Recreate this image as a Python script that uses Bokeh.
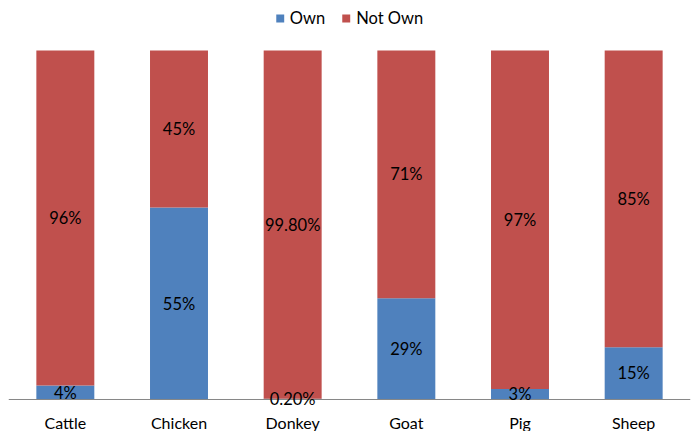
from bokeh.plotting import figure
from bokeh.models import ColumnDataSource, LabelSet, Legend, LegendItem, Range1d, Span
from bokeh.core.properties import value
from bokeh.embed import file_html
from bokeh.resources import INLINE

animals = ["Cattle", "Chicken", "Donkey", "Goat", "Pig", "Sheep"]
own = [4, 55, 0.2, 29, 3, 15]
not_own = [96, 45, 99.8, 71, 97, 85]
own_labels = ["4%", "55%", "0.20%", "29%", "3%", "15%"]
not_own_labels = ["96%", "45%", "99.80%", "71%", "97%", "85%"]

BLUE = "#4F81BD"
RED = "#C0504D"
FONT = "Lato"

source = ColumnDataSource(dict(
    animal=animals,
    own=own,
    not_own=not_own,
    own_mid=[o / 2 for o in own],
    not_own_mid=[o + n / 2 for o, n in zip(own, not_own)],
    own_label=own_labels,
    not_own_label=not_own_labels,
    zero=[0] * len(animals),
))

p = figure(x_range=animals, width=697, height=431, output_backend="svg",
           toolbar_location=None, min_border_left=8, min_border_right=7,
           min_border_top=0, min_border_bottom=0,
           x_axis_location=None, y_axis_location=None)
# the frame spans the full height: headroom on top for the legend,
# room below zero for the category names (so the small Donkey label is not cut)
p.y_range = Range1d(-9.17, 114.33)
p.x_range.range_padding = 0

r = p.vbar_stack(["own", "not_own"], x="animal", width=0.51, color=[BLUE, RED],
                 line_color=None, source=source)

# baseline
p.add_layout(Span(location=0, dimension="width", line_color="#868686", line_width=1))

for col, ycol in (("own_label", "own_mid"), ("not_own_label", "not_own_mid")):
    p.add_layout(LabelSet(x="animal", y=ycol, text=col, source=source,
                          text_align="center", text_baseline="middle",
                          text_font=value(FONT), text_font_size="16.5px",
                          text_color="#000000"))

# category names under the baseline
p.add_layout(LabelSet(x="animal", y="zero", text="animal", source=source,
                      y_offset=-23, text_align="center", text_baseline="middle",
                      text_font=value(FONT), text_font_size="16px",
                      text_color="#000000"))

legend = Legend(items=[LegendItem(label="Own", renderers=[r[0]]),
                       LegendItem(label="Not Own", renderers=[r[1]])],
                orientation="horizontal", location="top",
                label_text_font=FONT, label_text_font_size="16.5px",
                label_text_color="#000000",
                glyph_width=10, glyph_height=10, spacing=16,
                label_standoff=5, padding=0, margin=8,
                border_line_color=None, background_fill_alpha=0)
p.add_layout(legend)

p.grid.visible = False
p.outline_line_color = None

open("out.html", "w").write(file_html(p, INLINE))
